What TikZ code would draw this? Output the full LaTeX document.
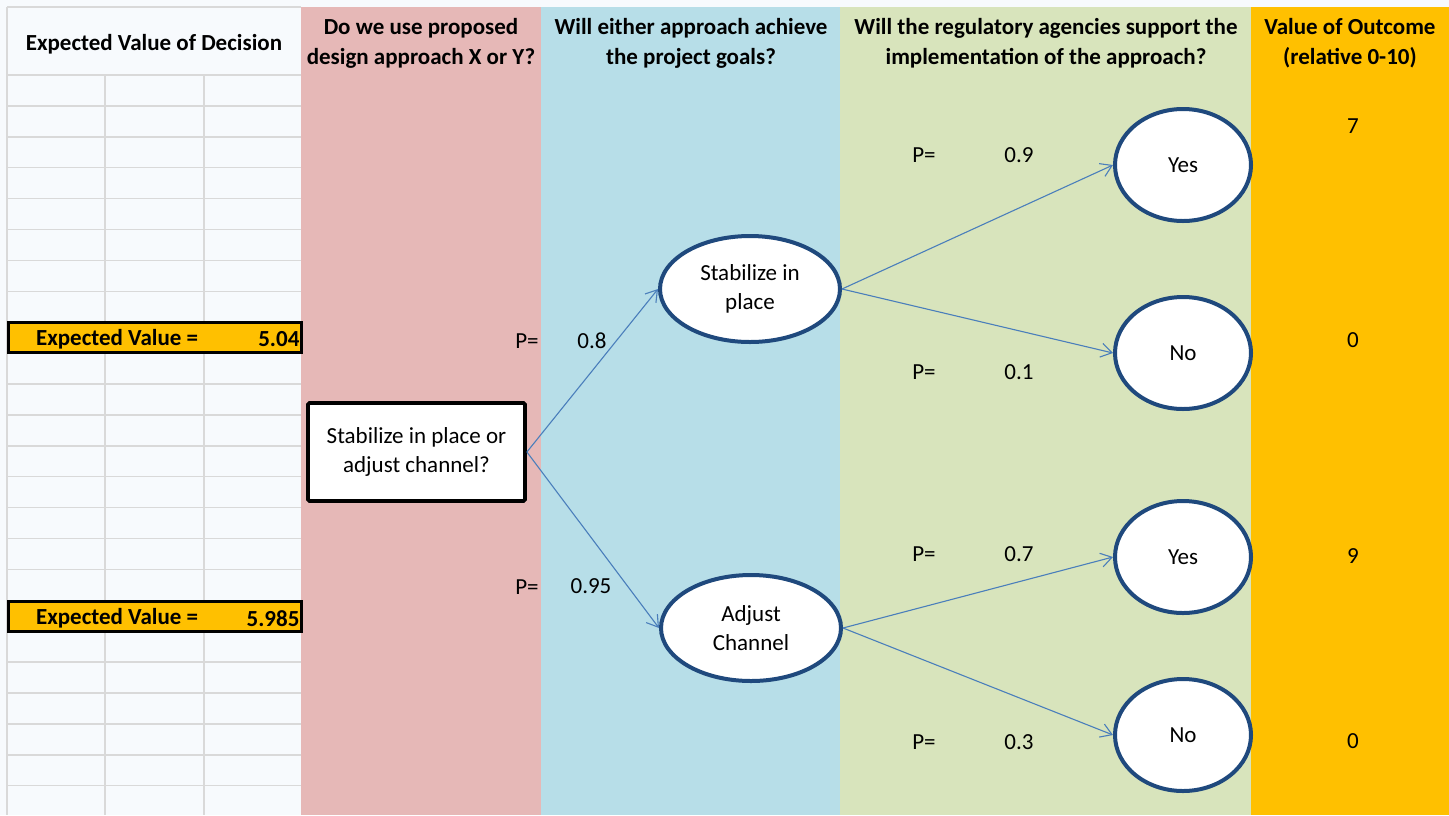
\documentclass[tikz,border=0pt]{standalone}
\usepackage{fontspec}
\setmainfont{Carlito}
\usetikzlibrary{arrows.meta, positioning, shapes.geometric}
\definecolor{cSheet}{HTML}{F7FAFD}
\definecolor{cGrid}{HTML}{D9D9D9}
\definecolor{cDecision}{HTML}{E6B8B7}
\definecolor{cGoal}{HTML}{B7DEE8}
\definecolor{cAgency}{HTML}{D8E4BC}
\definecolor{cOutcome}{HTML}{FFC000}
\definecolor{cNode}{HTML}{1F497D}
\definecolor{cFlow}{HTML}{4A7EBB}
\tikzset{
  cellfont/.style={font=\fontsize{23}{28.5}\selectfont},
  headtext/.style={font=\fontsize{23}{30}\selectfont\bfseries, align=center, inner sep=0pt},
  decisionblock/.style={cellfont, rectangle, draw=black, fill=white, line width=3.8pt,
    rounded corners=1.5pt, minimum width=217pt, minimum height=98pt,
    align=center, inner sep=0pt},
  chancenode/.style={cellfont, ellipse, draw=cNode, fill=white, line width=4pt,
    minimum width=180pt, minimum height=106pt, align=center, inner sep=0pt},
  outcomenode/.style={chancenode, minimum width=136pt, minimum height=112pt},
  flow/.style={-{Straight Barb[length=11pt, width=14pt]}, line width=1.1pt, draw=cFlow},
  problabel/.style={cellfont, inner sep=0pt},
  evbox/.style={draw=black, fill=cOutcome, line width=3.2pt,
    minimum width=293pt, minimum height=30pt, inner sep=0pt},
  evtext/.style={font=\fontsize{23}{28.5}\selectfont\bfseries, inner sep=0pt, yshift=-2pt},
  gridline/.style={draw=cGrid, line width=1.5pt},
}

\begin{document}
\begin{tikzpicture}[x=1pt, y=-1pt]

  \useasboundingbox (0,0) rectangle (1449,815);
  \fill[cSheet] (0,0) rectangle (1449,815);

  % ==================================================================
  % Spreadsheet grid (left) and coloured columns
  % ==================================================================
  \draw[gridline] (7,7) -- (301,7);
  \draw[gridline] (7,7) -- (7,815);
  \foreach \r in {0,...,23}
    \draw[gridline] (7,{75+30.9*\r}) -- (301,{75+30.9*\r});
  \foreach \x in {105,204}
    \draw[gridline] (\x,75) -- (\x,815);

  \fill[cDecision] (301,7) rectangle (541,815);
  \fill[cGoal] (541,7) rectangle (840,815);
  \fill[cAgency] (840,7) rectangle (1251,815);
  \fill[cOutcome] (1251,7) rectangle (1449,815);

  % ==================================================================
  % Column headers
  % ==================================================================
  \node[headtext] (hValue) at (154,44) {Expected Value of Decision};
  \node[headtext] (hDesign) at (421,43) {Do we use proposed\\design approach X or Y?};
  \node[headtext] (hGoals) at (691,43) {Will either approach achieve\\the project goals?};
  \node[headtext] (hAgency) at (1046,43)
    {Will the regulatory agencies support the\\implementation of the approach?};
  \node[headtext] (hOutcome) at (1350,43) {Value of Outcome\\(relative 0-10)};

  % ==================================================================
  % Expected value cells
  % ==================================================================
  \node[evbox] (evStab) at (155,337.5) {};
  \node[evtext, right=29pt of evStab.west] (evStabLbl) {Expected Value =};
  \node[evtext, left=3.5pt of evStab.east] (evStabVal) {5.04};

  \node[evbox] (evAdj) at (155,616.7) {};
  \node[evtext, right=29pt of evAdj.west] (evAdjLbl) {Expected Value =};
  \node[evtext, left=3.5pt of evAdj.east] (evAdjVal) {5.985};

  % ==================================================================
  % Decision tree
  % ==================================================================
  \node[decisionblock] (decision) at (416.5,452) {Stabilize in place or\\adjust channel?};

  \node[chancenode] (goalStab) at (750,289) {Stabilize in\\place};
  \node[chancenode] (goalAdj) at (751,628) {Adjust\\Channel};

  \node[outcomenode] (yesStab) at (1183,165) {Yes};
  \node[outcomenode] (noStab) at (1183,353) {No};
  \node[outcomenode] (yesAdj) at (1183,557) {Yes};
  \node[outcomenode] (noAdj) at (1183,735) {No};

  % ----------------------------------------------------------------
  % Arrows
  % ----------------------------------------------------------------
  \draw[flow] (decision.east) -- (goalStab.west);
  \draw[flow] (decision.east) -- (goalAdj.west);
  \draw[flow] (goalStab.east) -- (yesStab.west);
  \draw[flow] (goalStab.east) -- (noStab.west);
  \draw[flow] (goalAdj.east) -- (yesAdj.west);
  \draw[flow] (goalAdj.east) -- (noAdj.west);

  % ----------------------------------------------------------------
  % Probabilities and outcome values
  % ----------------------------------------------------------------
  \node[problabel] (pStab) at (527,341) {P=};
  \node[problabel] (pStabVal) at (592,341) {0.8};
  \node[problabel] (pAdj) at (527,587) {P=};
  \node[problabel] (pAdjVal) at (591,586) {0.95};

  \node[problabel] (pYesStab) at (924,155) {P=};
  \node[problabel] (pYesStabVal) at (1019,155) {0.9};
  \node[problabel] (pNoStab) at (924,372) {P=};
  \node[problabel] (pNoStabVal) at (1019,372) {0.1};
  \node[problabel] (pYesAdj) at (924,554) {P=};
  \node[problabel] (pYesAdjVal) at (1019,554) {0.7};
  \node[problabel] (pNoAdj) at (924,742) {P=};
  \node[problabel] (pNoAdjVal) at (1019,742) {0.3};

  \node[problabel] (vYesStab) at (1353,126) {7};
  \node[problabel] (vNoStab) at (1353,340) {0};
  \node[problabel] (vYesAdj) at (1353,556) {9};
  \node[problabel] (vNoAdj) at (1353,741) {0};

\end{tikzpicture}
\end{document}
